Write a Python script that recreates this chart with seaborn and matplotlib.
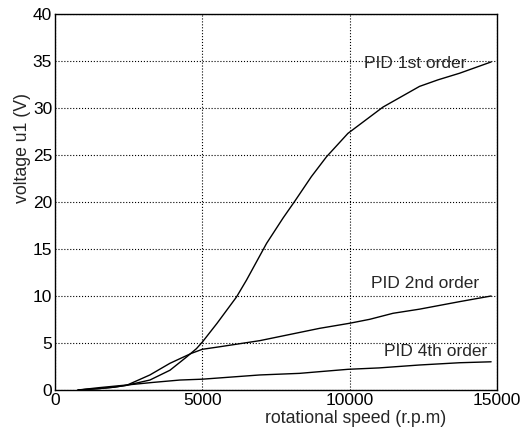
import pandas as pd
import seaborn as sns
import matplotlib.pyplot as plt

# Readings from the reference curves
speed_1st = [780, 1500, 2000, 2430, 3220, 3900, 4460, 4800, 5000, 5500, 6160, 6500,
             7180, 7740, 8140, 8700, 9210, 9940, 11130, 12370, 13000, 13730, 14800]
volt_1st = [0, 0.15, 0.3, 0.5, 1.06, 2.1, 3.5, 4.4, 5.1, 7.1, 9.9, 11.7,
            15.6, 18.3, 20.1, 22.7, 24.8, 27.3, 30.1, 32.3, 33.0, 33.7, 34.9]

speed_2nd = [780, 1500, 2000, 2430, 3220, 3900, 4630, 5000, 5590, 6950, 8980,
             10000, 10680, 11470, 12370, 13730, 14800]
volt_2nd = [0, 0.15, 0.3, 0.5, 1.6, 2.84, 3.9, 4.33, 4.6, 5.25, 6.56,
            7.1, 7.52, 8.16, 8.6, 9.4, 10.0]

speed_4th = [780, 1500, 2430, 3300, 4240, 5000, 6950, 8300, 8980, 9940, 11000,
             12370, 13730, 14800]
volt_4th = [0, 0.25, 0.53, 0.8, 1.06, 1.15, 1.6, 1.77, 1.95, 2.2, 2.35,
            2.66, 2.9, 3.0]

labels = ["PID 1st order", "PID 2nd order", "PID 4th order"]
label_x = [10500, 10730, 11150]
label_y = [34.7, 11.35, 4.07]

x_ticks = [0, 5000, 10000, 15000]
y_ticks = [0, 5, 10, 15, 20, 25, 30, 35, 40]

frames = []
for name, xs, ys in zip(labels, [speed_1st, speed_2nd, speed_4th],
                        [volt_1st, volt_2nd, volt_4th]):
    frames.append(pd.DataFrame({"speed": xs, "voltage": ys, "curve": name}))
df = pd.concat(frames, ignore_index=True)

sns.set_style("white")
plt.rcParams["font.family"] = ["Liberation Sans", "DejaVu Sans"]

fig = plt.figure(figsize=(5.31, 4.38), dpi=100)
ax = fig.add_axes([0.1036, 0.1096, 0.8324, 0.8584])

sns.lineplot(data=df, x="speed", y="voltage", hue="curve",
             palette=["black"] * 3, linewidth=1.0, legend=False,
             sort=False, ax=ax)

for text, tx, ty in zip(labels, label_x, label_y):
    ax.text(tx, ty, text, fontsize=12.5, va="center", ha="left")

ax.set_xlim(0, 15000)
ax.set_ylim(0, 40)
ax.set_xticks(x_ticks)
ax.set_yticks(y_ticks)
ax.tick_params(direction="in", length=4, labelsize=12.5, colors="black", pad=2)
ax.grid(True, linestyle=":", color="black", linewidth=0.8)
for spine in ax.spines.values():
    spine.set_color("black")
    spine.set_linewidth(1.0)

ax.set_xlabel("rotational speed (r.p.m)", fontsize=12.7)
ax.set_ylabel("voltage u1 (V)", fontsize=12.7)
ax.xaxis.set_label_coords(0.681, -0.054)
ax.yaxis.set_label_coords(-0.054, 0.644)

fig.savefig("out.png", dpi=100)
plt.close(fig)
